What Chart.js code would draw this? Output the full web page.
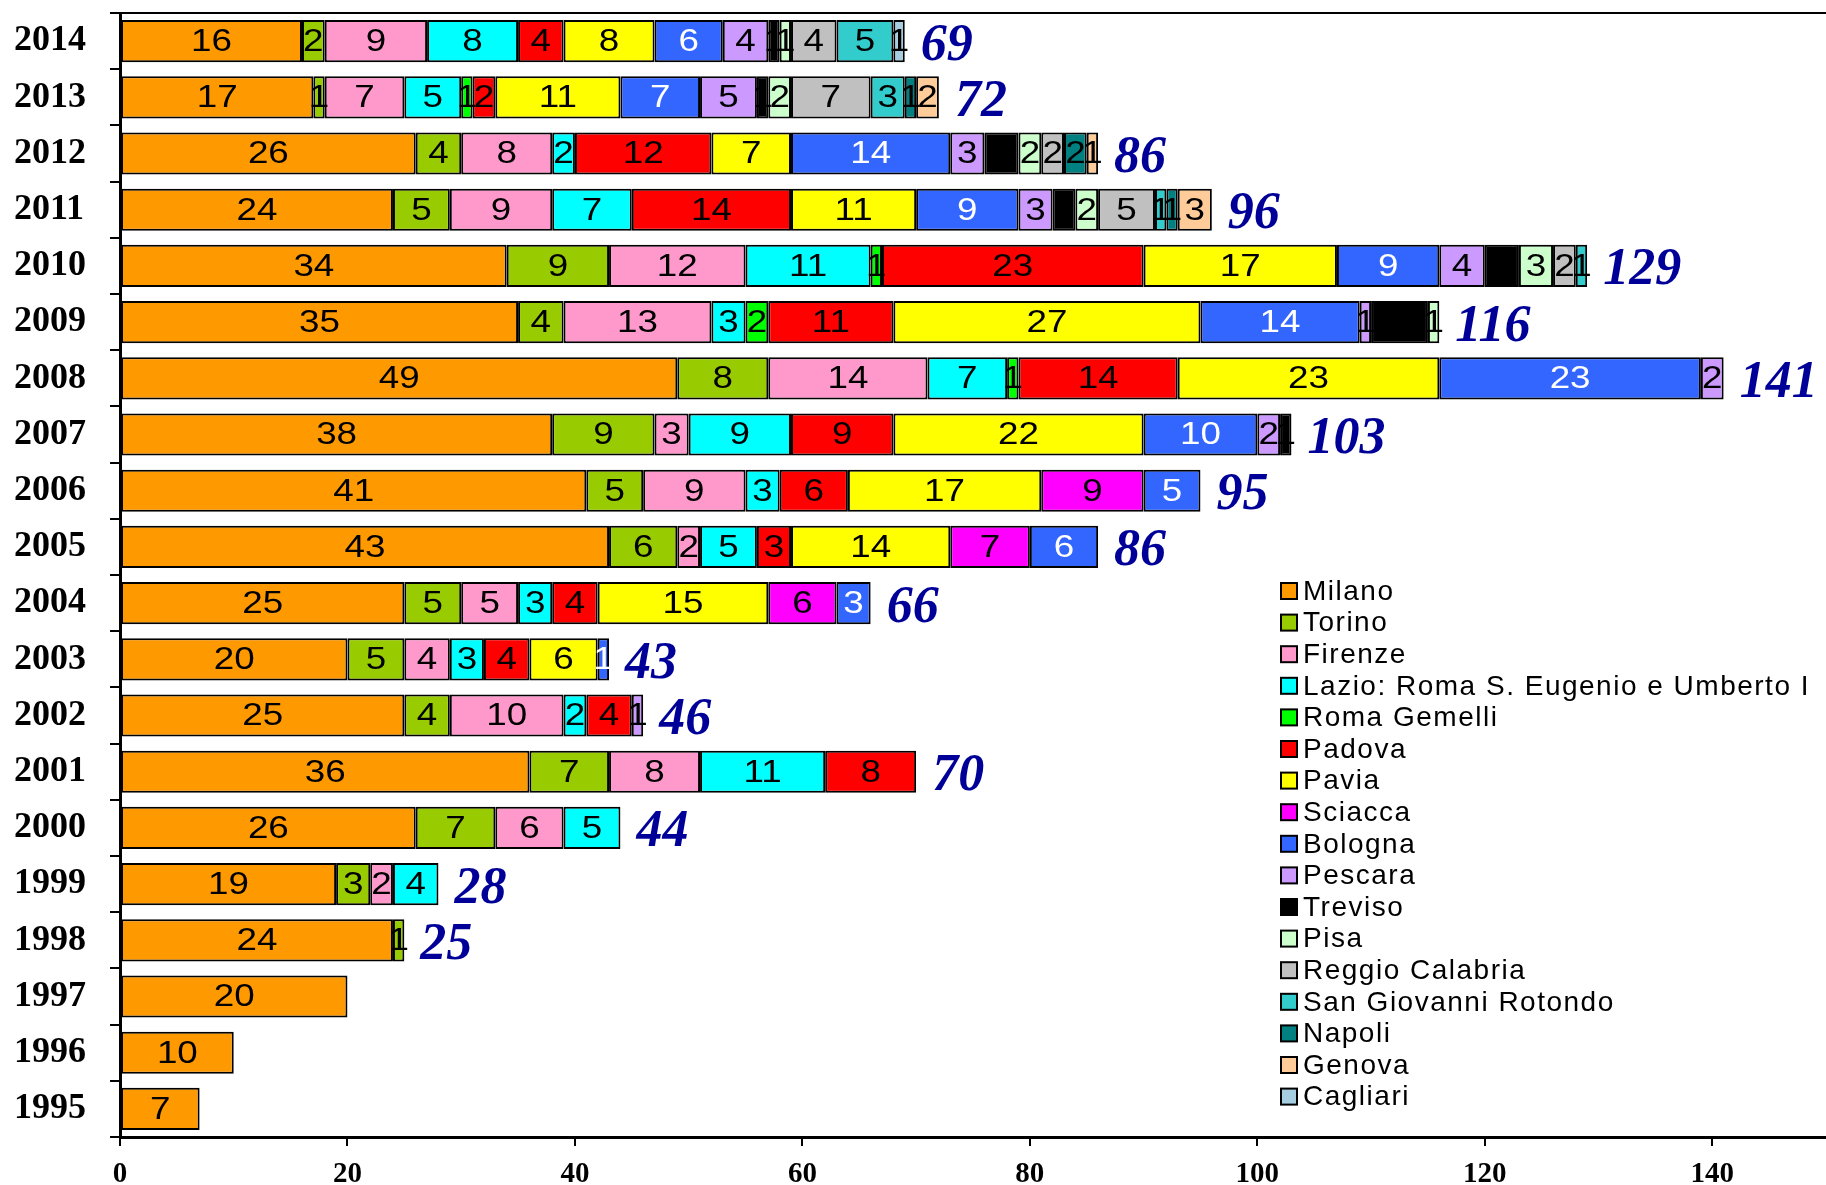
<!DOCTYPE html>
<html>
<head>
<meta charset="utf-8">
<script src="https://cdn.jsdelivr.net/npm/chart.js@4"></script>
<style>
  body { margin: 0; background: #fff; }
  #wrap { width: 1826px; height: 1185px; position: relative; }
</style>
</head>
<body>
<div id="wrap"><canvas id="trapianti"></canvas></div>
<script>
// anni dall'alto verso il basso
var anni = ["2014","2013","2012","2011","2010","2009","2008","2007","2006","2005",
            "2004","2003","2002","2001","2000","1999","1998","1997","1996","1995"];

var centri = ["Milano","Torino","Firenze","Lazio: Roma S. Eugenio e Umberto I","Roma Gemelli",
              "Padova","Pavia","Sciacca","Bologna","Pescara","Treviso","Pisa",
              "Reggio Calabria","San Giovanni Rotondo","Napoli","Genova","Cagliari"];

var milano   = [16,17,26,24,34,35,49,38,41,43,25,20,25,36,26,19,24,20,10,7];
var torino   = [2,1,4,5,9,4,8,9,5,6,5,5,4,7,7,3,1,0,0,0];
var firenze  = [9,7,8,9,12,13,14,3,9,2,5,4,10,8,6,2,0,0,0,0];
var lazio    = [8,5,2,7,11,3,7,9,3,5,3,3,2,11,5,4,0,0,0,0];
var gemelli  = [0,1,0,0,1,2,1,0,0,0,0,0,0,0,0,0,0,0,0,0];
var padova   = [4,2,12,14,23,11,14,9,6,3,4,4,4,8,0,0,0,0,0,0];
var pavia    = [8,11,7,11,17,27,23,22,17,14,15,6,0,0,0,0,0,0,0,0];
var sciacca  = [0,0,0,0,0,0,0,0,9,7,6,0,0,0,0,0,0,0,0,0];
var bologna  = [6,7,14,9,9,14,23,10,5,6,3,1,0,0,0,0,0,0,0,0];
var pescara  = [4,5,3,3,4,1,2,2,0,0,0,0,1,0,0,0,0,0,0,0];
var treviso  = [1,1,3,2,3,5,0,1,0,0,0,0,0,0,0,0,0,0,0,0];
var pisa     = [1,2,2,2,3,1,0,0,0,0,0,0,0,0,0,0,0,0,0,0];
var reggio   = [4,7,2,5,2,0,0,0,0,0,0,0,0,0,0,0,0,0,0,0];
var sanGiov  = [5,3,0,1,1,0,0,0,0,0,0,0,0,0,0,0,0,0,0,0];
var napoli   = [0,1,2,1,0,0,0,0,0,0,0,0,0,0,0,0,0,0,0,0];
var genova   = [0,2,1,3,0,0,0,0,0,0,0,0,0,0,0,0,0,0,0,0];
var cagliari = [1,0,0,0,0,0,0,0,0,0,0,0,0,0,0,0,0,0,0,0];

var totali = [69,72,86,96,129,116,141,103,95,86,66,43,46,70,44,28,25,null,null,null];

var xTicks = [0,20,40,60,80,100,120,140];

var serie = [milano,torino,firenze,lazio,gemelli,padova,pavia,sciacca,bologna,pescara,
             treviso,pisa,reggio,sanGiov,napoli,genova,cagliari];
var colori = ["#FF9900","#99CC00","#FF99CC","#00FFFF","#00FF00","#FF0000","#FFFF00","#FF00FF",
              "#3366FF","#CC99FF","#000000","#CCFFCC","#C0C0C0","#33CCCC","#008080","#FFCC99","#A6CEE0"];
var coloriTesto = ["#000","#000","#000","#000","#000","#000","#000","#000",
                   "#fff","#000","#000","#000","#000","#000","#000","#000","#000"];

var datasets = serie.map(function(d, i){
  return {
    label: centri[i],
    data: d,
    backgroundColor: colori[i],
    borderColor: "#000",
    borderWidth: 2,
    borderSkipped: false,
    categoryPercentage: 1,
    barPercentage: 0.75
  };
});

// testo un po' allargato in orizzontale come nell'originale
function testoLargo(ctx, s, x, y, k){
  ctx.save();
  ctx.translate(x, y);
  ctx.scale(k, 1);
  ctx.fillText(s, 0, 0);
  ctx.restore();
}

// numeri dentro i segmenti + totali
var etichette = {
  id: "etichette",
  afterDatasetsDraw: function(chart){
    var ctx = chart.ctx;
    ctx.save();
    ctx.font = "32px 'Liberation Sans', Arial, sans-serif";
    ctx.textAlign = "center";
    ctx.textBaseline = "middle";
    chart.data.datasets.forEach(function(ds, i){
      var meta = chart.getDatasetMeta(i);
      meta.data.forEach(function(bar, j){
        var v = ds.data[j];
        if (!v) return;
        var c = bar.getCenterPoint();
        ctx.fillStyle = coloriTesto[i];
        testoLargo(ctx, String(v), c.x, c.y + 1, 1.15);
      });
    });
    ctx.font = "italic bold 52px 'Liberation Serif', 'Times New Roman', serif";
    ctx.fillStyle = "#000099";
    ctx.textAlign = "left";
    totali.forEach(function(t, j){
      if (t == null) return;
      var x = chart.scales.x.getPixelForValue(t) + 16;
      var y = chart.scales.y.getPixelForValue(j) + 5;
      ctx.fillText(String(t), x, y);
    });
    ctx.restore();
  }
};

// linea in alto + legenda a destra
var cornice = {
  id: "cornice",
  afterDraw: function(chart){
    var ctx = chart.ctx, a = chart.chartArea;
    ctx.save();
    ctx.strokeStyle = "#000";
    ctx.lineWidth = 2;
    ctx.beginPath();
    ctx.moveTo(a.left, a.top);
    ctx.lineTo(chart.width, a.top);
    ctx.stroke();

    var x0 = 1281, y0 = 591, step = 31.6;
    ctx.font = "28px 'Liberation Sans', Arial, sans-serif";
    ctx.textBaseline = "middle";
    if ("letterSpacing" in ctx) ctx.letterSpacing = "1.5px";
    chart.data.datasets.forEach(function(ds, i){
      var y = y0 + i * step;
      ctx.fillStyle = ds.backgroundColor;
      ctx.fillRect(x0, y - 8, 16, 16);
      ctx.lineWidth = 2;
      ctx.strokeStyle = "#000";
      ctx.strokeRect(x0, y - 8, 16, 16);
      ctx.fillStyle = "#000";
      ctx.fillText(ds.label, x0 + 22, y + 1);
    });
    ctx.restore();
  }
};

new Chart(document.getElementById("trapianti"), {
  type: "bar",
  data: { labels: anni, datasets: datasets },
  options: {
    indexAxis: "y",
    responsive: true,
    maintainAspectRatio: false,
    animation: false,
    layout: { padding: { left: 14, top: 13, right: 0, bottom: 0 } },
    plugins: { legend: { display: false }, tooltip: { enabled: false } },
    scales: {
      x: {
        stacked: true,
        min: 0,
        max: 150,
        afterBuildTicks: function(scale){
          scale.ticks = xTicks.map(function(v){ return { value: v }; });
        },
        afterFit: function(scale){
          scale.height = 48;
        },
        grid: { drawOnChartArea: false, tickLength: 9, color: "#000", lineWidth: 2 },
        border: { color: "#000", width: 3 },
        ticks: {
          color: "#000",
          padding: 11,
          font: { family: "'Liberation Serif', 'Times New Roman', serif", size: 29, weight: "bold" }
        }
      },
      y: {
        stacked: true,
        afterFit: function(scale){
          scale.width = 106;
          scale.paddingTop = 0;
          scale.paddingBottom = 0;
        },
        grid: { drawOnChartArea: false, offset: true, tickLength: 10, color: "#000", lineWidth: 2 },
        border: { color: "#000", width: 3 },
        ticks: {
          color: "#000",
          padding: 4,
          crossAlign: "far",
          font: { family: "'Liberation Serif', 'Times New Roman', serif", size: 36, weight: "bold" }
        }
      }
    }
  },
  plugins: [etichette, cornice]
});
</script>
</body>
</html>
